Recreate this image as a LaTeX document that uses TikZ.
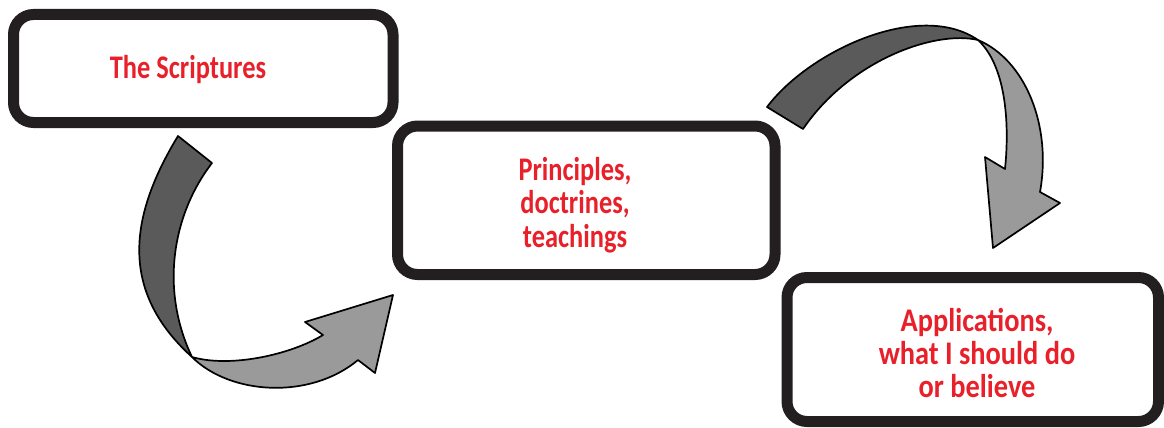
\documentclass[tikz,border=0pt]{standalone}
\usepackage{fontspec}
\newfontfamily\boxfont[FakeStretch=0.8]{Carlito}
\newfontfamily\wideboxfont[FakeStretch=0.86]{Carlito}
\definecolor{boxline}{HTML}{231F20}
\definecolor{textred}{HTML}{E8202A}
\definecolor{arrowdark}{HTML}{5A5A5A}
\definecolor{arrowlight}{HTML}{9A9A9A}

\begin{document}
\begin{tikzpicture}[x=1pt, y=-1pt,
    box/.style={draw=boxline, line width=11pt, rounded corners=20pt, inner sep=0pt},
    boxtext/.style={text=textred, font=\boxfont\bfseries\fontsize{33}{33.5}\selectfont, align=center, inner sep=0pt},
    ribbon/.style={draw=black, line width=1.7pt, line join=round}]
    \useasboundingbox (0,0) rectangle (1164,428);

    % Boxes
    \node[box, minimum width=379.5pt, minimum height=108pt] (scriptures) at (203.25,68.5) {};
    \node[box, minimum width=377.5pt, minimum height=148.5pt] (principles) at (586.25,200.25) {};
    \node[box, minimum width=371.5pt, minimum height=144pt] (applications) at (972.75,349.5) {};

    \node[boxtext] (scripturestext) at (188,70) {The Scriptures};
    \node[boxtext] (principlestext) at (575,205) {Principles,\\doctrines,\\teachings};
    \node[boxtext, font=\wideboxfont\bfseries\fontsize{33}{33.3}\selectfont] (applicationstext) at (977,353) {Applications,\\what I should do\\or believe};

    % Left arrow (dark side, then twisted light side)
    \coordinate (twistA) at (192,357);
    \filldraw[ribbon, fill=arrowdark] (178,136)
        .. controls (130,215) and (118,290) .. (twistA)
        .. controls (160,290) and (172,215) .. (212,163)
        -- cycle;
    \filldraw[ribbon, fill=arrowlight] (twistA)
        .. controls (230,395) and (310,400) .. (358,360)
        -- (375,373) -- (393,295) -- (305,322) -- (323,335)
        .. controls (290,355) and (230,368) .. (twistA)
        -- cycle;

    % Right arrow
    \coordinate (twistB) at (978,40);
    \filldraw[ribbon, fill=arrowdark] (767,107)
        .. controls (810,50) and (920,0) .. (twistB)
        .. controls (935,30) and (850,60) .. (803,129)
        -- cycle;
    \filldraw[ribbon, fill=arrowlight] (twistB)
        .. controls (1025,60) and (1052,125) .. (1040,192)
        -- (1060,203) -- (993,248) -- (985,157) -- (1005,169)
        .. controls (1010,120) and (1005,65) .. (twistB)
        -- cycle;
\end{tikzpicture}
\end{document}
